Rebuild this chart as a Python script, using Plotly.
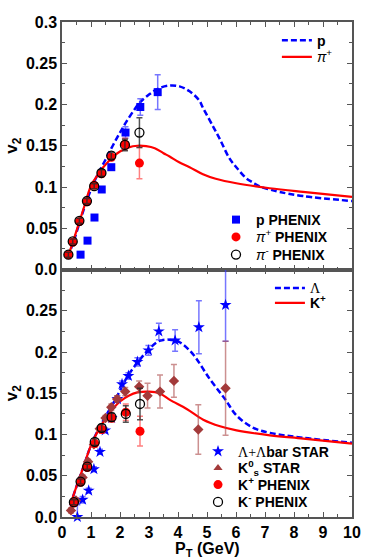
import plotly.graph_objects as go
from plotly.subplots import make_subplots

# ---- top panel: p and pi ----
p_curve_pt = [0.2, 0.4, 0.6, 0.8, 1.0, 1.2, 1.5, 1.75, 2.0, 2.2, 2.5, 2.7, 3.0, 3.3, 3.7, 4.05, 4.4, 4.73, 4.86, 5.2, 5.43, 5.77, 6.01, 6.34, 6.58, 6.8, 7.16, 7.5, 8.31, 10]
p_curve_v2 = [0.015, 0.034, 0.056, 0.078, 0.097, 0.113, 0.133, 0.150, 0.166, 0.178, 0.194, 0.203, 0.212, 0.219, 0.223, 0.222, 0.216, 0.205, 0.196, 0.174, 0.159, 0.135, 0.124, 0.111, 0.1055, 0.101, 0.097, 0.094, 0.089, 0.083]
pi_curve_pt = [0.2, 0.4, 0.6, 0.8, 0.95, 1.05, 1.2, 1.4, 1.6, 1.8, 2.0, 2.3, 2.6, 2.9, 3.2, 3.5, 3.71, 4.04, 4.4, 4.86, 5.3, 6.01, 7.16, 8.31, 10]
pi_curve_v2 = [0.015, 0.036, 0.058, 0.080, 0.097, 0.105, 0.113, 0.123, 0.131, 0.138, 0.143, 0.148, 0.150, 0.1495, 0.147, 0.141, 0.137, 0.130, 0.124, 0.1155, 0.110, 0.1045, 0.0985, 0.094, 0.088]

p_pt = [0.64, 0.88, 1.12, 1.37, 1.70, 2.19, 2.70, 3.30]
p_v2 = [0.018, 0.035, 0.063, 0.097, 0.124, 0.166, 0.197, 0.215]
p_err = [0.002, 0.002, 0.002, 0.003, 0.003, 0.007, 0.010, 0.021]

pip_pt = [0.22, 0.37, 0.60, 0.86, 1.11, 1.36, 1.70, 2.17, 2.67]
pip_v2 = [0.018, 0.033, 0.058, 0.082, 0.102, 0.116, 0.136, 0.152, 0.129]
pip_err = [0.003, 0.003, 0.003, 0.003, 0.003, 0.004, 0.004, 0.007, 0.019]
pim_v2 = [0.018, 0.034, 0.059, 0.083, 0.101, 0.117, 0.138, 0.151, 0.166]
pim_err = [0.003, 0.003, 0.003, 0.003, 0.003, 0.004, 0.004, 0.007, 0.018]

# ---- bottom panel: Lambda and K ----
lam_curve_pt = [0.28, 0.5, 0.75, 1.0, 1.25, 1.52, 1.88, 2.27, 2.67, 3.07, 3.36, 3.7, 4.05, 4.5, 5.1, 5.62, 6.02, 6.6, 7.17, 8.32, 10]
lam_curve_v2 = [0.014, 0.037, 0.062, 0.087, 0.106, 0.123, 0.145, 0.171, 0.190, 0.206, 0.2135, 0.215, 0.212, 0.198, 0.167, 0.143, 0.123, 0.108, 0.102, 0.096, 0.090]
k_curve_pt = [0.28, 0.5, 0.75, 1.0, 1.25, 1.5, 1.75, 2.0, 2.3, 2.6, 3.0, 3.36, 3.72, 4.3, 4.87, 5.45, 6.02, 7.17, 8.32, 10]
k_curve_v2 = [0.014, 0.037, 0.062, 0.087, 0.105, 0.119, 0.131, 0.140, 0.147, 0.151, 0.152, 0.150, 0.142, 0.131, 0.118, 0.110, 0.105, 0.099, 0.095, 0.089]

lam_pt = [0.53, 0.71, 0.92, 1.10, 1.31, 1.49, 1.71, 1.91, 2.07, 2.29, 2.60, 2.98, 3.34, 3.90, 4.72, 5.64]
lam_v2 = [0.000, 0.021, 0.032, 0.058, 0.079, 0.105, 0.120, 0.143, 0.161, 0.171, 0.188, 0.202, 0.225, 0.214, 0.230, 0.257]
lam_err = [0.015, 0.004, 0.003, 0.003, 0.003, 0.003, 0.003, 0.004, 0.004, 0.004, 0.005, 0.006, 0.010, 0.013, 0.032, 0.044]

k0_pt = [0.31, 0.48, 0.71, 0.90, 1.10, 1.30, 1.50, 1.70, 1.90, 2.18, 2.66, 2.95, 3.38, 3.86, 4.70, 5.64]
k0_v2 = [0.008, 0.020, 0.048, 0.067, 0.088, 0.107, 0.120, 0.133, 0.143, 0.152, 0.158, 0.147, 0.152, 0.165, 0.106, 0.156]
k0_err = [0.003, 0.003, 0.003, 0.003, 0.003, 0.003, 0.003, 0.004, 0.004, 0.005, 0.007, 0.015, 0.020, 0.020, 0.030, 0.057]

kp_pt = [0.41, 0.64, 0.87, 1.13, 1.37, 1.71, 2.20, 2.69]
kp_v2 = [0.017, 0.042, 0.060, 0.089, 0.106, 0.120, 0.127, 0.104]
kp_err = [0.003, 0.003, 0.003, 0.004, 0.004, 0.005, 0.010, 0.018]
km_v2 = [0.018, 0.043, 0.061, 0.091, 0.108, 0.121, 0.125, 0.137]
km_err = [0.003, 0.003, 0.003, 0.004, 0.004, 0.005, 0.010, 0.019]

y_top_ticks = [0, 0.05, 0.1, 0.15, 0.2, 0.25, 0.3]
y_top_text = ["0.0", "0.05", "0.1", "0.15", "0.2", "0.25", "0.3"]
x_ticks = list(range(0, 11))

BLUE = "#0000ff"
RED = "#ff0000"
BROWN = "#a33a3a"
FONT = "Liberation Sans"
SERIF = "<span style='font-family:Liberation Serif'>%s</span>"

# one small legend per entry, so rows can sit as tight as in the original
# name: (x of legend left in plot fraction, row centre in px from top)
legend_rows = {
    "legend": (0.741, 40.7), "legend2": (0.741, 57.3),
    "legend3": (0.531, 220), "legend4": (0.531, 237.3), "legend5": (0.531, 255),
    "legend6": (0.717, 288.3), "legend7": (0.717, 303.3),
    "legend8": (0.469, 451.7), "legend9": (0.469, 468.3),
    "legend10": (0.469, 485), "legend11": (0.469, 502.3),
}

fig = make_subplots(rows=2, cols=1, vertical_spacing=0)


def curve(x, y, name, color, dash, legend, row):
    fig.add_trace(go.Scatter(
        x=x, y=y, mode="lines", name=name, legend=legend,
        line=dict(color=color, width=2.5 if dash else 2.2, dash=dash, shape="spline")),
        row=row, col=1)


def points(x, y, err, name, legend, row, symbol, color, size, errcolor,
           fill=True, showlegend=True):
    marker = dict(symbol=symbol, size=size, color=color, line=dict(width=0))
    if not fill:
        marker = dict(symbol=symbol, size=size, color="rgba(0,0,0,0)",
                      line=dict(width=1.3, color=color))
    fig.add_trace(go.Scatter(
        x=x, y=y, mode="markers", name=name, legend=legend, showlegend=showlegend,
        marker=marker, cliponaxis=False,
        error_y=dict(type="data", array=err, color=errcolor, thickness=1.5, width=3)),
        row=row, col=1)


# top panel
curve(p_curve_pt, p_curve_v2, "<b>p</b>", BLUE, "6px,3px", "legend", 1)
curve(pi_curve_pt, pi_curve_v2, "<i>π</i><sup>+</sup>", RED, None, "legend2", 1)
points(p_pt, p_v2, p_err, "<b>p PHENIX</b>", "legend3", 1, "square", BLUE, 8,
       "rgba(60,60,255,0.7)")
points(pip_pt, pip_v2, pip_err, "<i>π</i><sup>+</sup><b> PHENIX</b>", "legend4", 1,
       "circle", RED, 9, "rgba(255,60,60,0.65)")
points(pip_pt, pim_v2, pim_err, "<i>π</i><sup>-</sup><b> PHENIX</b>", "legend5", 1,
       "circle", "#000000", 9, "rgba(40,40,40,0.8)", fill=False)

# bottom panel
curve(lam_curve_pt, lam_curve_v2, SERIF % "Λ", BLUE, "6px,3px", "legend6", 2)
curve(k_curve_pt, k_curve_v2, "<b>K<sup>+</sup></b>", RED, None, "legend7", 2)
points(lam_pt, lam_v2, lam_err, SERIF % "Λ+Λ" + "<b>bar STAR</b>", "legend8", 2,
       "star", BLUE, 9, "rgba(60,60,255,0.7)")
points(k0_pt, k0_v2, k0_err, "K0", "legend9", 2, "diamond", BROWN, 8,
       "rgba(170,70,70,0.6)", showlegend=False)
# legend entry for K0s uses a triangle like the original figure
fig.add_trace(go.Scatter(
    x=[None], y=[None], mode="markers", name="<b>K<sup>0</sup><sub>s</sub> STAR</b>",
    legend="legend9", marker=dict(symbol="triangle-up", size=8, color=BROWN)),
    row=2, col=1)
points(kp_pt, kp_v2, kp_err, "<b>K<sup>+</sup> PHENIX</b>", "legend10", 2,
       "circle", RED, 9, "rgba(255,60,60,0.65)")
points(kp_pt, km_v2, km_err, "<b>K<sup>-</sup> PHENIX</b>", "legend11", 2,
       "circle", "#000000", 9, "rgba(40,40,40,0.8)", fill=False)

axis_common = dict(
    showline=True, linecolor="#555555", linewidth=1.5, mirror="allticks",
    ticks="inside", ticklen=5, tickwidth=1.2, tickcolor="#555555",
    showgrid=False, zeroline=False,
    tickfont=dict(family=FONT, size=16, color="black", weight="bold"),
)

fig.update_xaxes(axis_common, range=[0, 10], tickvals=x_ticks,
                 minor=dict(dtick=0.5, ticks="inside", ticklen=3, tickcolor="#555555"))
fig.update_xaxes(showticklabels=False, row=1, col=1)
fig.update_yaxes(axis_common, range=[0, 0.3],
                 minor=dict(dtick=0.025, ticks="inside", ticklen=3, tickcolor="#555555"),
                 title=dict(text="<b>v<sub>2</sub></b>", standoff=4,
                            font=dict(family=FONT, size=17, color="black")))
fig.update_yaxes(tickvals=y_top_ticks, ticktext=y_top_text, row=1, col=1)
fig.update_yaxes(tickvals=y_top_ticks[:-1], ticktext=y_top_text[:-1], row=2, col=1)

plot_top, plot_h = 22, 495
fig.add_annotation(text="<b>P<sub>T</sub> (GeV)</b>", xref="paper", yref="paper",
                   x=0.5, y=(plot_top + plot_h - 549) / plot_h, yanchor="middle",
                   showarrow=False, font=dict(family=FONT, size=16, color="black"))

legend_font = dict(family=FONT, size=14, color="black")
legends = {
    name: dict(x=x, y=(plot_top + plot_h - py) / plot_h, xanchor="left",
               yanchor="middle", bgcolor="rgba(0,0,0,0)", font=legend_font,
               borderwidth=0)
    for name, (x, py) in legend_rows.items()
}
fig.update_layout(
    width=374, height=560,
    margin=dict(l=62, r=22, t=22, b=43, autoexpand=False),
    plot_bgcolor="white", paper_bgcolor="white",
    showlegend=True,
    **legends,
)

# drop the page's default body margin so the figure sits at the window corner
fig.write_html("out.html", config={"displayModeBar": False}, post_script=(
    "document.body.style.margin='0';"
    "document.documentElement.style.overflow='hidden';"))
